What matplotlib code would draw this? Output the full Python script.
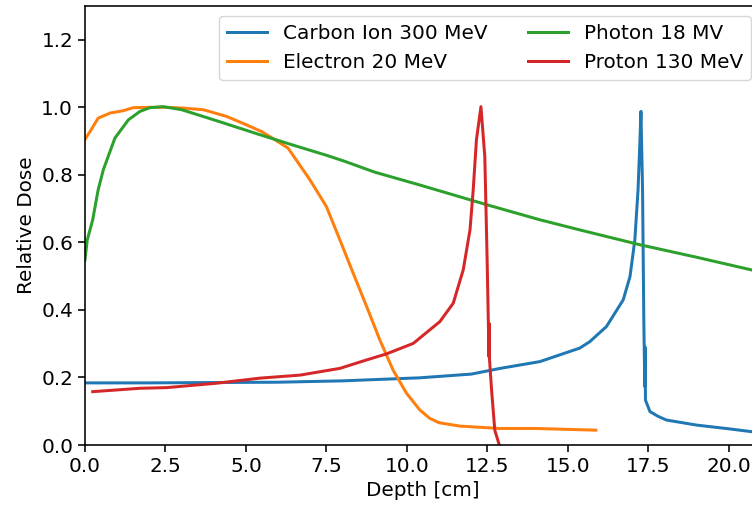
import matplotlib.pyplot as plt

# depth dose curves
carbon_x = [0.0, 2.0, 4.0, 6.0, 8.0, 10.4, 12.0, 12.9, 14.13, 15.37, 15.68, 16.2, 16.72,
            16.93, 17.08, 17.18, 17.24, 17.27, 17.32, 17.36, 17.39, 17.40, 17.41, 17.55,
            17.8, 18.06, 19.0, 20.0, 21.0]
carbon_y = [0.184, 0.184, 0.185, 0.186, 0.19, 0.199, 0.21, 0.227, 0.247, 0.287, 0.306,
            0.351, 0.43, 0.499, 0.607, 0.756, 0.904, 0.988, 0.756, 0.361, 0.173, 0.29,
            0.133, 0.099, 0.085, 0.074, 0.059, 0.048, 0.036]

electron_x = [0.0, 0.155, 0.41, 0.78, 1.19, 1.5, 2.0, 2.5, 3.0, 3.67, 4.4, 5.02, 5.49,
              5.9, 6.31, 6.99, 7.5, 7.92, 8.33, 8.75, 9.16, 9.57, 9.99, 10.4, 10.71,
              11.0, 11.65, 12.89, 14.0, 15.87]
electron_y = [0.905, 0.928, 0.968, 0.983, 0.99, 0.999, 1.0, 1.0, 0.998, 0.993, 0.973,
              0.948, 0.928, 0.904, 0.879, 0.785, 0.706, 0.607, 0.509, 0.41, 0.311, 0.222,
              0.153, 0.104, 0.079, 0.066, 0.056, 0.049, 0.049, 0.044]

photon_x = [0.0, 0.07, 0.24, 0.41, 0.57, 0.93, 1.35, 1.71, 2.02, 2.43, 3.0, 4.0, 5.43,
            6.5, 7.5, 8.07, 9.0, 10.4, 12.5, 14.13, 15.37, 17.24, 19.0, 21.0]
photon_y = [0.548, 0.607, 0.667, 0.756, 0.815, 0.909, 0.963, 0.988, 0.999, 1.002, 0.993,
            0.963, 0.919, 0.887, 0.858, 0.84, 0.808, 0.77, 0.711, 0.667, 0.637, 0.593,
            0.556, 0.512]

proton_x = [0.24, 1.71, 2.54, 4.09, 5.43, 6.68, 7.92, 8.75, 9.37, 10.2, 10.71, 11.02,
            11.44, 11.75, 11.96, 12.06, 12.16, 12.3, 12.42, 12.49, 12.55, 12.555, 12.56,
            12.63, 12.73, 12.87]
proton_y = [0.158, 0.168, 0.17, 0.183, 0.198, 0.207, 0.227, 0.252, 0.27, 0.301, 0.341,
            0.365, 0.42, 0.519, 0.637, 0.756, 0.904, 1.002, 0.854, 0.558, 0.262, 0.36,
            0.262, 0.163, 0.044, 0.0]

plt.rcParams['font.size'] = 14.4
plt.rcParams['lines.linewidth'] = 2.16
plt.rcParams['axes.linewidth'] = 1.15
plt.rcParams['xtick.major.size'] = 5.0
plt.rcParams['ytick.major.size'] = 5.0
plt.rcParams['xtick.major.width'] = 1.15
plt.rcParams['ytick.major.width'] = 1.15

fig = plt.figure(figsize=(7.52, 5.09), dpi=100)
ax = fig.add_axes([0.113, 0.1257, 0.899, 0.8625])

ax.plot(carbon_x, carbon_y, label="Carbon Ion 300 MeV")
ax.plot(electron_x, electron_y, label="Electron 20 MeV")
ax.plot(photon_x, photon_y, label="Photon 18 MV")
ax.plot(proton_x, proton_y, label="Proton 130 MeV")

ax.set_xlim(0, 21)
ax.set_ylim(0, 1.3)
ax.set_xticks([0, 2.5, 5, 7.5, 10, 12.5, 15, 17.5, 20])
ax.set_xlabel("Depth [cm]")
ax.set_ylabel("Relative Dose")
ax.legend(ncol=2, loc="upper right")

plt.savefig("out.png", dpi=100)
